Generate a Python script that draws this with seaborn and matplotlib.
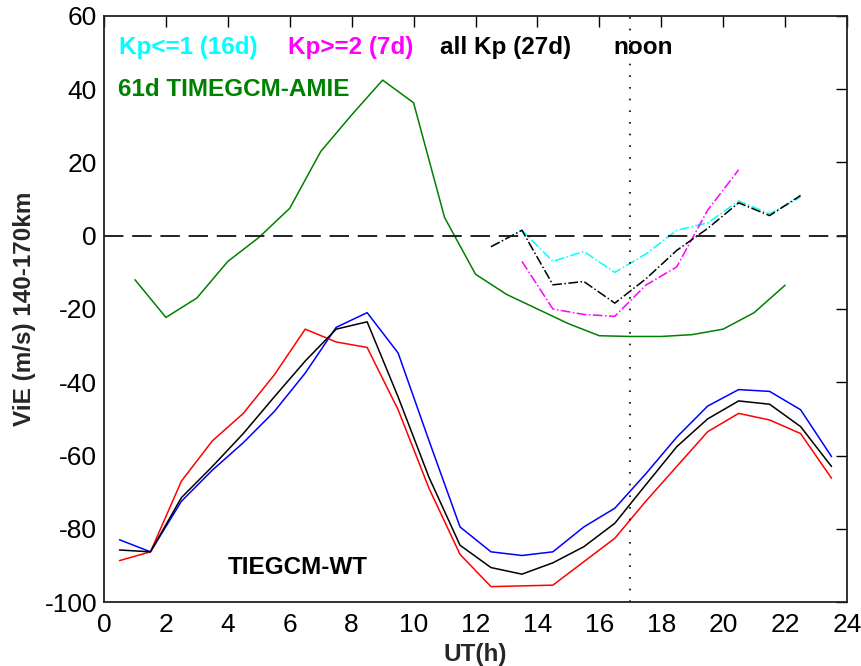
import numpy as np
import pandas as pd
import matplotlib
matplotlib.use("Agg")
import matplotlib.pyplot as plt
import seaborn as sns

# ---- data ----
ut_half = [0.5, 1.5, 2.5, 3.5, 4.5, 5.5, 6.5, 7.5, 8.5, 9.5, 10.5, 11.5,
           12.5, 13.5, 14.5, 15.5, 16.5, 17.5, 18.5, 19.5, 20.5, 21.5, 22.5, 23.5]
wt_blue = [-83, -86.3, -72.5, -64, -56.5, -48, -37.5, -25, -21, -32, -56, -79.5,
           -86.3, -87.3, -86.3, -79.5, -74.4, -65, -55, -46.5, -42, -42.5, -47.5, -60.3]
wt_black = [-85.8, -86.3, -71.5, -63, -54, -44, -34.2, -25.5, -23.5, -44, -66, -84.5,
            -90.6, -92.4, -89.3, -84.9, -78.5, -68, -57.6, -50, -45.1, -46, -52.1, -63]
wt_red = [-88.7, -86.3, -67, -56, -48.5, -38, -25.5, -29, -30.5, -47.5, -69, -87,
          -95.8, -95.6, -95.4, -89, -82.6, -72.5, -63, -53.5, -48.5, -50.3, -54, -66.2]

ut_amie = [1, 2, 3, 4, 5, 6, 7, 8, 9, 10, 11, 12, 13, 14, 15, 16, 17, 18, 19, 20, 21, 22]
amie = [-12, -22.3, -17, -7, -0.5, 7.5, 23, 33, 42.5, 36.3, 5, -10.5, -16, -20, -24,
        -27.3, -27.5, -27.5, -27, -25.5, -21, -13.5]

ut_kp_low = [12.5, 13.5, 14.5, 15.5, 16.5, 17.5, 18.5, 19.5, 20.5, 21.5, 22.5]
kp_low = [-3, 1.5, -7, -4.3, -10, -5, 1.5, 3.5, 9.5, 6, 10.5]

ut_kp_high = [13.5, 14.5, 15.5, 16.5, 17.5, 18.5, 19.5, 20.5]
kp_high = [-7, -20, -21.5, -22, -13.5, -8.5, 7, 18]

ut_kp_all = [12.5, 13.5, 14.5, 15.5, 16.5, 17.5, 18.5, 19.5, 20.5, 21.5, 22.5]
kp_all = [-3, 1.5, -13.4, -12.5, -18.4, -11.8, -4, 2, 9, 5.5, 11]

xticks = list(range(0, 25, 2))
yticks = list(range(-100, 61, 20))

# ---- style ----
sns.set_theme(style="white")
plt.rcParams["font.family"] = ["Liberation Sans", "DejaVu Sans"]
plt.rcParams["axes.unicode_minus"] = False

fig = plt.figure(figsize=(8.61, 6.66), dpi=100)
ax = fig.add_axes([104 / 861, 64 / 666, 743 / 861, 586 / 666])

lw = 1.1
def draw(x, y, color, ls="-"):
    df = pd.DataFrame({"x": x, "y": y})
    sns.lineplot(data=df, x="x", y="y", ax=ax, color=color, lw=lw, linestyle=ls,
                 estimator=None, sort=False)

draw(ut_half, wt_blue, "#0000ff")
draw(ut_half, wt_red, "#ff0000")
draw(ut_half, wt_black, "#000000")
draw(ut_amie, amie, "#008000")
draw(ut_kp_low, kp_low, "#00ffff", "-.")
draw(ut_kp_high, kp_high, "#ff00ff", "-.")
draw(ut_kp_all, kp_all, "#000000", "-.")

ax.axhline(0, color="#222222", lw=1.4, dashes=(10, 4.5))
ax.axvline(17, color="#000000", lw=1.2, linestyle=(0, (1, 6)))

ax.set_xlim(0, 24)
ax.set_ylim(-100, 60)
ax.set_xticks(xticks)
ax.set_yticks(yticks)
ax.tick_params(direction="in", length=8, width=1, top=True, right=True,
               labelsize=19, colors="black", pad=5)
ax.tick_params(axis="x", pad=8)
for s in ax.spines.values():
    s.set_color("#222222")
    s.set_linewidth(1.3)

ax.set_xlabel("UT(h)", fontsize=17.5, fontweight="bold", labelpad=4)
ax.set_ylabel("ViE (m/s) 140-170km", fontsize=17.5, fontweight="bold", labelpad=6)

tk = dict(fontsize=17.5, fontweight="bold", va="center", ha="left")
ax.text(0.5, 51.5, "Kp<=1 (16d)", color="#00ffff", **tk)
ax.text(5.95, 51.5, "Kp>=2 (7d)", color="#ff00ff", **tk)
ax.text(10.85, 51.5, "all Kp (27d)", color="#000000", **tk)
ax.text(16.45, 51.5, "noon", color="#000000", **tk)
ax.text(0.45, 40, "61d TIMEGCM-AMIE", color="#008000", **tk)
ax.text(4.0, -90.5, "TIEGCM-WT", color="#000000", **tk)

fig.savefig("out.png", dpi=100)
